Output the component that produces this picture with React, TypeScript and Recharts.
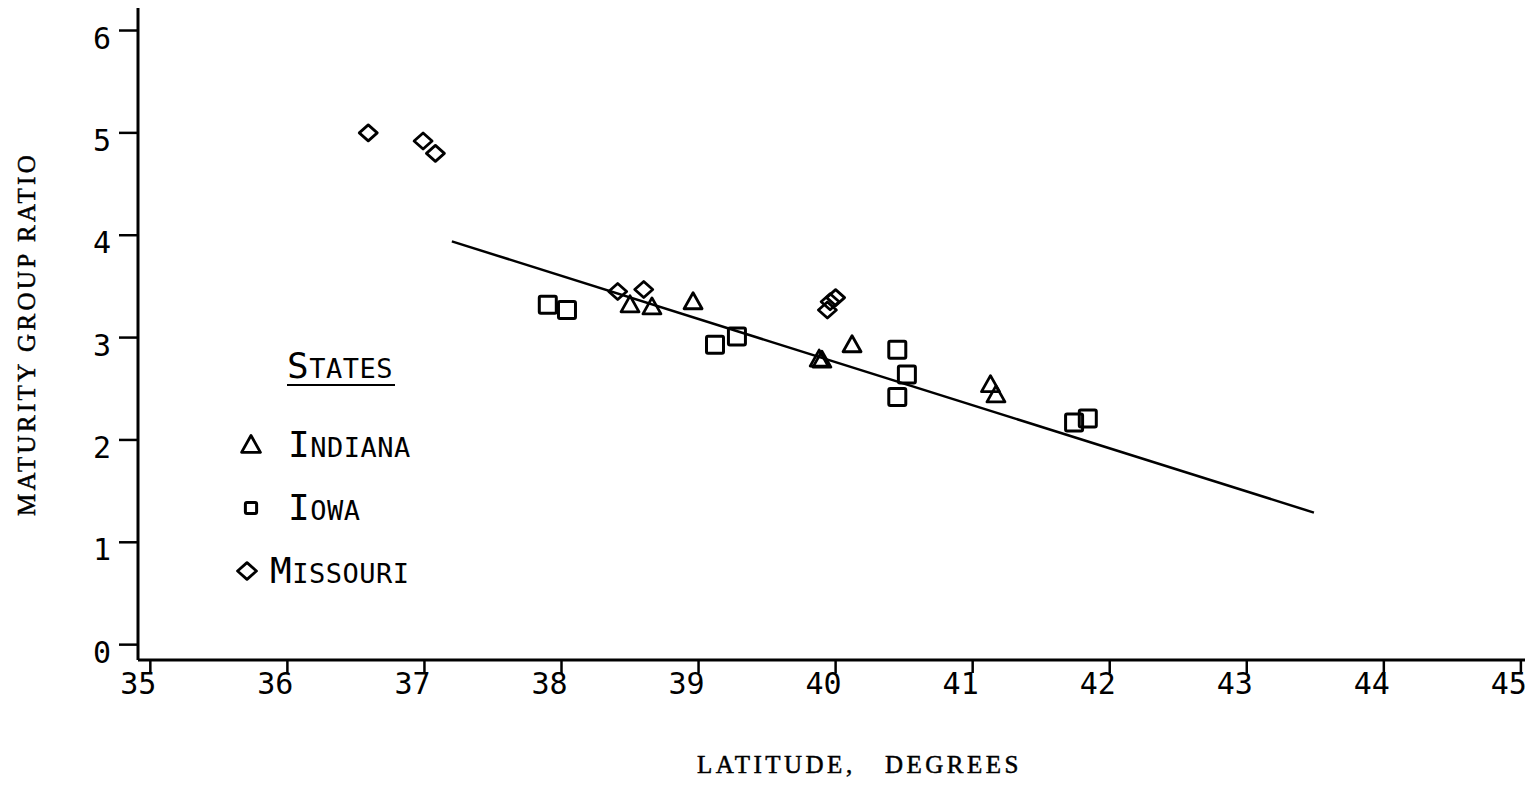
import { ScatterChart, Scatter, XAxis, YAxis, ReferenceLine, Legend, Label } from 'recharts';

// axis ticks
const xTicks = [35, 36, 37, 38, 39, 40, 41, 42, 43, 44, 45];
const yTicks = [0, 1, 2, 3, 4, 5, 6];

// Indiana (triangles)
const indianaLat = [38.5, 38.66, 38.96, 39.88, 39.9, 40.12, 41.13, 41.17];
const indianaRatio = [3.32, 3.3, 3.35, 2.79, 2.78, 2.93, 2.54, 2.44];

// Iowa (squares)
const iowaLat = [37.9, 38.04, 39.12, 39.28, 40.45, 40.52, 40.45, 41.74, 41.84];
const iowaRatio = [3.32, 3.27, 2.93, 3.01, 2.88, 2.64, 2.42, 2.17, 2.21];

// Missouri (diamonds)
const missouriLat = [36.59, 36.99, 37.08, 38.41, 38.6, 39.96, 40.0, 39.94];
const missouriRatio = [5.0, 4.92, 4.8, 3.45, 3.47, 3.35, 3.39, 3.27];

// fitted regression line end points
const fitLat = [37.2, 43.49];
const fitRatio = [3.94, 1.29];

const legendTitle = 'STATES';
const legendNames = ['INDIANA', 'IOWA', 'MISSOURI'];

const toPoints = (xs: number[], ys: number[]) => xs.map((x, i) => ({ x, y: ys[i] }));

const plotFont = "'DejaVu Sans Mono', monospace";
// typewriter-ish serif for the axis titles
const typeFont = "'Liberation Serif', 'DejaVu Serif', serif";

function Triangle({ cx, cy, s = 1 }: any) {
  return (
    <path
      d={`M${cx},${cy - 9 * s} L${cx + 9 * s},${cy + 7 * s} L${cx - 9 * s},${cy + 7 * s} Z`}
      fill="none"
      stroke="#000"
      strokeWidth={2.8}
      strokeLinejoin="round"
    />
  );
}

function Square({ cx, cy, s = 1 }: any) {
  return (
    <rect x={cx - 8.5 * s} y={cy - 8.5 * s} width={17 * s} height={17 * s} rx={1.5}
      fill="none" stroke="#000" strokeWidth={3} />
  );
}

function Diamond({ cx, cy, s = 1 }: any) {
  return (
    <path
      d={`M${cx},${cy - 8 * s} L${cx + 9 * s},${cy} L${cx},${cy + 8 * s} L${cx - 9 * s},${cy} Z`}
      fill="none"
      stroke="#000"
      strokeWidth={2.8}
      strokeLinejoin="round"
    />
  );
}

const markers = [Triangle, Square, Diamond];

function XTick({ x, y, payload }: any) {
  return (
    <text x={x - 12} y={y + 19} textAnchor="middle" fontFamily={plotFont} fontSize={30} fill="#000">
      {payload.value}
    </text>
  );
}

function YTick({ x, y, payload }: any) {
  return (
    <text x={x - 6} y={y + 18} textAnchor="end" fontFamily={plotFont} fontSize={30} fill="#000">
      {payload.value}
    </text>
  );
}

function SmallCaps({ x, y, text }: { x: number; y: number; text: string }) {
  return (
    <text x={x} y={y} fontFamily={plotFont} fill="#000" letterSpacing={0.5}>
      <tspan fontSize={36}>{text[0]}</tspan>
      <tspan fontSize={27}>{text.slice(1)}</tspan>
    </text>
  );
}

function StatesLegend() {
  return (
    <svg width={220} height={270}>
      <SmallCaps x={57} y={38} text={legendTitle} />
      <line x1={57} x2={165} y1={45} y2={45} stroke="#000" strokeWidth={2} />
      {legendNames.map((name, i) => {
        const Marker = markers[i];
        const base = 117 + i * 63;
        return (
          <g key={name}>
            <Marker cx={i === 2 ? 17 : 21} cy={base - 12} s={i === 1 ? 0.66 : 1.05} />
            <SmallCaps x={i === 2 ? 40 : 58} y={base} text={name} />
          </g>
        );
      })}
    </svg>
  );
}

export default function App() {
  return (
    <div style={{ position: 'absolute', left: 0, top: 0, width: 1534, height: 808, background: '#fff' }}>
      <ScatterChart width={1534} height={808} margin={{ top: 8, right: 9, bottom: 0, left: 0 }}>
        <XAxis
          type="number"
          dataKey="x"
          domain={[34.91, 45.03]}
          ticks={xTicks}
          interval={0}
          height={148}
          tickSize={13}
          axisLine={{ stroke: '#000', strokeWidth: 3 }}
          tickLine={{ stroke: '#000', strokeWidth: 2.5 }}
          tick={<XTick />}
          allowDataOverflow
        >
          <Label
            content={({ viewBox }: any) => (
              <text
                x={viewBox.x + viewBox.width / 2 + 28}
                y={viewBox.y + 113}
                textAnchor="middle"
                fontFamily={typeFont}
                fontSize={25}
                letterSpacing={3.5}
                fill="#000"
                stroke="#000"
                strokeWidth={0.5}
                style={{ whiteSpace: 'pre' }}
              >
                {'LATITUDE,   DEGREES'}
              </text>
            )}
          />
        </XAxis>
        <YAxis
          type="number"
          dataKey="y"
          domain={[-0.15, 6.22]}
          ticks={yTicks}
          interval={0}
          width={138}
          tickSize={19}
          axisLine={{ stroke: '#000', strokeWidth: 3 }}
          tickLine={{ stroke: '#000', strokeWidth: 2.5 }}
          tick={<YTick />}
          allowDataOverflow
        >
          <Label
            content={({ viewBox }: any) => {
              const cx = 35;
              const cy = viewBox.y + viewBox.height / 2;
              return (
                <text
                  x={cx}
                  y={cy}
                  transform={`rotate(-90, ${cx}, ${cy})`}
                  textAnchor="middle"
                  fontFamily={typeFont}
                  fontSize={25}
                  letterSpacing={3.3}
                  fill="#000"
                  stroke="#000"
                  strokeWidth={0.5}
                >
                  MATURITY GROUP RATIO
                </text>
              );
            }}
          />
        </YAxis>
        <ReferenceLine
          segment={[
            { x: fitLat[0], y: fitRatio[0] },
            { x: fitLat[1], y: fitRatio[1] },
          ]}
          stroke="#000"
          strokeWidth={2.5}
        />
        <Scatter name="INDIANA" data={toPoints(indianaLat, indianaRatio)} shape={<Triangle />} isAnimationActive={false} />
        <Scatter name="IOWA" data={toPoints(iowaLat, iowaRatio)} shape={<Square />} isAnimationActive={false} />
        <Scatter name="MISSOURI" data={toPoints(missouriLat, missouriRatio)} shape={<Diamond />} isAnimationActive={false} />
        <Legend
          layout="vertical"
          align="center"
          verticalAlign="middle"
          content={<StatesLegend />}
          wrapperStyle={{ left: 230, top: 340, width: 220, height: 270 }}
        />
      </ScatterChart>
    </div>
  );
}
